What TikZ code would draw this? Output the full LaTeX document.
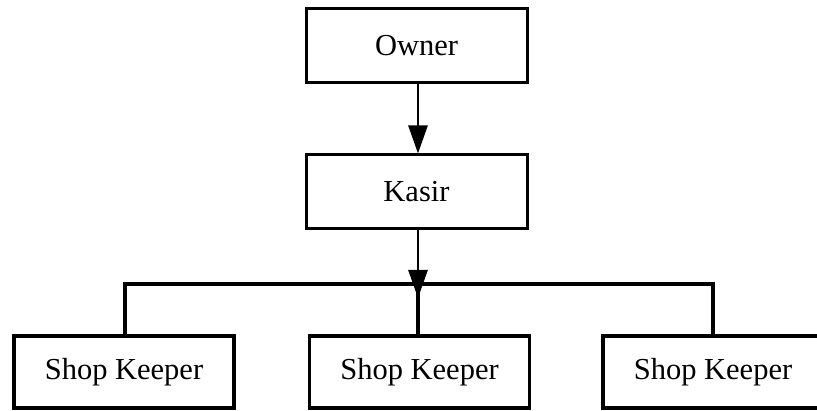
\documentclass[tikz,border=0pt]{standalone}
\usepackage{fontspec}
\setmainfont{Liberation Serif}
\usetikzlibrary{arrows.meta}
\begin{document}
\begin{tikzpicture}[x=1pt,y=-1pt,
  topbox/.style={draw,line width=3pt,minimum width=221pt,minimum height=74pt,inner sep=0pt,font=\fontsize{30.5}{36}\selectfont},
  keeperbox/.style={draw,line width=3.5pt,minimum width=220pt,minimum height=72pt,inner sep=0pt,font=\fontsize{30.5}{36}\selectfont},
  arr/.style={line width=2.7pt,-{Triangle[width=19pt,length=28pt]}},
  conn/.style={line width=3.5pt}]
\useasboundingbox (0,0) rectangle (817,411);
\node[topbox] (owner) at (416.5,46) {Owner};
\node[topbox] (kasir) at (416.5,192) {Kasir};
\node[keeperbox] (sk1) at (124,372) {Shop Keeper};
\node[keeperbox] (sk2) at (419.5,372) {Shop Keeper};
\node[keeperbox] (sk3) at (713,372) {Shop Keeper};
\coordinate (tip) at (418,298);
\coordinate (hl) at (125,284);
\coordinate (hr) at (713,284);
\draw[arr] (owner.south -| 418,0) -- (kasir.north -| 418,0);
\draw[conn] (sk1.north -| hl) -- (hl) -- (hr) -- (sk3.north -| hr);
\draw[conn] (418,284) -- (sk2.north -| 418,0);
\draw[arr] (kasir.south -| 418,0) -- (tip);
\end{tikzpicture}
\end{document}
